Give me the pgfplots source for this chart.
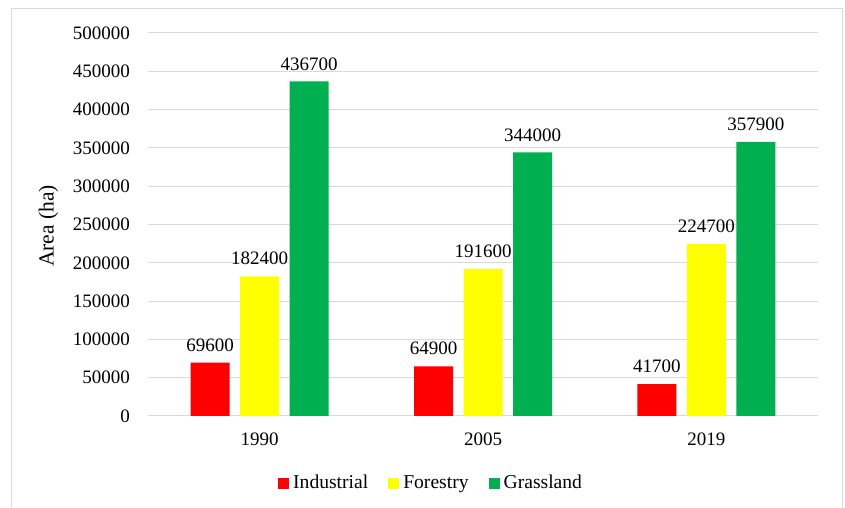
\documentclass[border=0pt]{standalone}
\usepackage{pgfplots}
\pgfplotsset{compat=1.18}
\usepackage{fontspec}
\setmainfont{Liberation Serif}
\definecolor{cRed}{HTML}{FF0000}
\definecolor{cYel}{HTML}{FFFF00}
\definecolor{cGrn}{HTML}{00B050}
\definecolor{cGrid}{HTML}{D9D9D9}
\begin{document}
\fontsize{19}{22}\selectfont
\begin{tikzpicture}[x=1pt,y=1pt]
\path[use as bounding box] (0,0) rectangle (845,508);
\draw[cGrid,line width=1pt] (11.5,-10) -- (11.5,499.5) -- (842.5,499.5) -- (842.5,-10);
\begin{axis}[
  at={(148pt,92pt)}, anchor=south west,
  scale only axis, width=670pt, height=383pt,
  ybar=10.5pt, bar width=39pt,
  xmin=-0.5, xmax=2.5, ymin=0, ymax=500000,
  xtick={0,1,2}, xticklabels={1990,2005,2019},
  ytick={0,50000,...,500000},
  axis line style={draw=none},
  major tick length=0pt,
  ymajorgrids, grid style={cGrid, line width=1pt},
  /pgf/number format/assume math mode=true,
  scaled y ticks=false,
  yticklabel={\pgfmathprintnumber[fixed,precision=0,1000 sep={}]{\tick}},
  yticklabel style={anchor=east, inner sep=0pt, xshift=-18pt, font=\fontsize{19}{22}\selectfont},
  xticklabel style={anchor=north, inner sep=0pt, yshift=-17pt, font=\fontsize{19}{22}\selectfont},
  point meta=explicit symbolic,
  nodes near coords,
  nodes near coords style={anchor=south, inner sep=0pt, yshift=11pt, font=\fontsize{19}{22}\selectfont, text=black},
  legend style={at={(0.194,-0.1775)}, anchor=west, draw=none, fill=none, font=\fontsize{19.6}{22}\selectfont, legend columns=3,
    /tikz/every even column/.append style={column sep=20pt}, inner sep=0pt,
    nodes={inner sep=0pt, text height=13pt, text depth=4.5pt}},
  legend image code/.code={\fill[#1] (0pt,-5pt) rectangle (11pt,6pt); \path (15pt,0pt);},
  legend cell align=left,
]
\addplot[draw=none, fill=cRed] coordinates {(0,69600)[69600] (1,64900)[64900] (2,41700)[41700]};
\addplot[draw=none, fill=cYel] coordinates {(0,182400)[182400] (1,191600)[191600] (2,224700)[224700]};
\addplot[draw=none, fill=cGrn] coordinates {(0,436700)[436700] (1,344000)[344000] (2,357900)[357900]};
\legend{Industrial,Forestry,Grassland}
\end{axis}
\node[rotate=90, font=\fontsize{21.5}{24}\selectfont, inner sep=0pt] at (48.5,282) {Area (ha)};
\end{tikzpicture}
\end{document}
